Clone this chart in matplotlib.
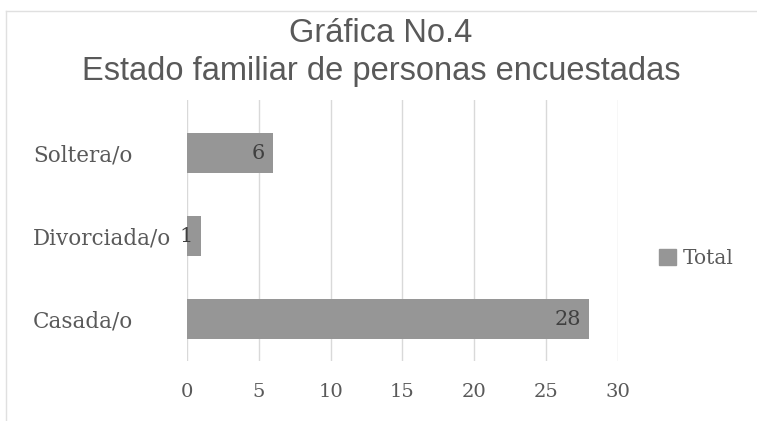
import matplotlib.pyplot as plt
from matplotlib.lines import Line2D
from matplotlib.patches import Patch

# estado familiar, de abajo hacia arriba
categorias = ['Casada/o', 'Divorciada/o', 'Soltera/o']
totales = [28, 1, 6]
ticks_x = [0, 5, 10, 15, 20, 25, 30]

gris_barra = '#969696'
gris_texto = '#595959'
serif = 'DejaVu Serif'

fig = plt.figure(figsize=(7.57, 4.21), dpi=100)
ax = fig.add_axes([0.247, 0.1425, 0.569, 0.62])

pos = range(len(categorias))
ax.barh(pos, totales, height=0.48, color=gris_barra, zorder=2)

for y, v in zip(pos, totales):
    ax.annotate(str(v), xy=(v, y), xytext=(-6, 0), textcoords='offset points',
                ha='right', va='center', fontsize=15, family=serif, color='#404040')

ax.set_xlim(0, 30)
ax.set_ylim(-0.5, 2.64)
ax.set_xticks(ticks_x)
ax.set_xticklabels([str(t) for t in ticks_x], family=serif, fontsize=14, color=gris_texto)
ax.set_yticks(list(pos))
ax.set_yticklabels(categorias, family=serif, fontsize=15.5, color=gris_texto, ha='left')
ax.tick_params(length=0, axis='x', pad=16)
# etiquetas alineadas a la izquierda, a 154 px del eje
ax.tick_params(length=0, axis='y', pad=154 * 72 / 100)
ax.xaxis.grid(True, color='#d9d9d9', linewidth=1, zorder=0)
ax.set_axisbelow(True)
for s in ax.spines.values():
    s.set_visible(False)

tx = 381 / 757
fig.text(tx, 0.921, 'Gráfica No.4', ha='center', va='center',
         fontsize=23.5, family='Liberation Sans', color=gris_texto)
fig.text(tx, 0.83, 'Estado familiar de personas encuestadas', ha='center', va='center',
         fontsize=23.5, family='Liberation Sans', color=gris_texto)

leg = fig.legend(handles=[Patch(color=gris_barra, label='Total')], loc='center left',
                 bbox_to_anchor=(0.847, 0.387), frameon=False, handlelength=0.85,
                 handleheight=0.85, handletextpad=0.3,
                 prop={'family': serif, 'size': 14.5})
for t in leg.get_texts():
    t.set_color(gris_texto)

# marco del area del grafico
fig.add_artist(Line2D([6 / 757, 1], [1 - 11 / 421] * 2, color='#e0e0e0', linewidth=1))
fig.add_artist(Line2D([6 / 757] * 2, [0, 1 - 11 / 421], color='#e0e0e0', linewidth=1))

fig.savefig('out.png', dpi=100)
